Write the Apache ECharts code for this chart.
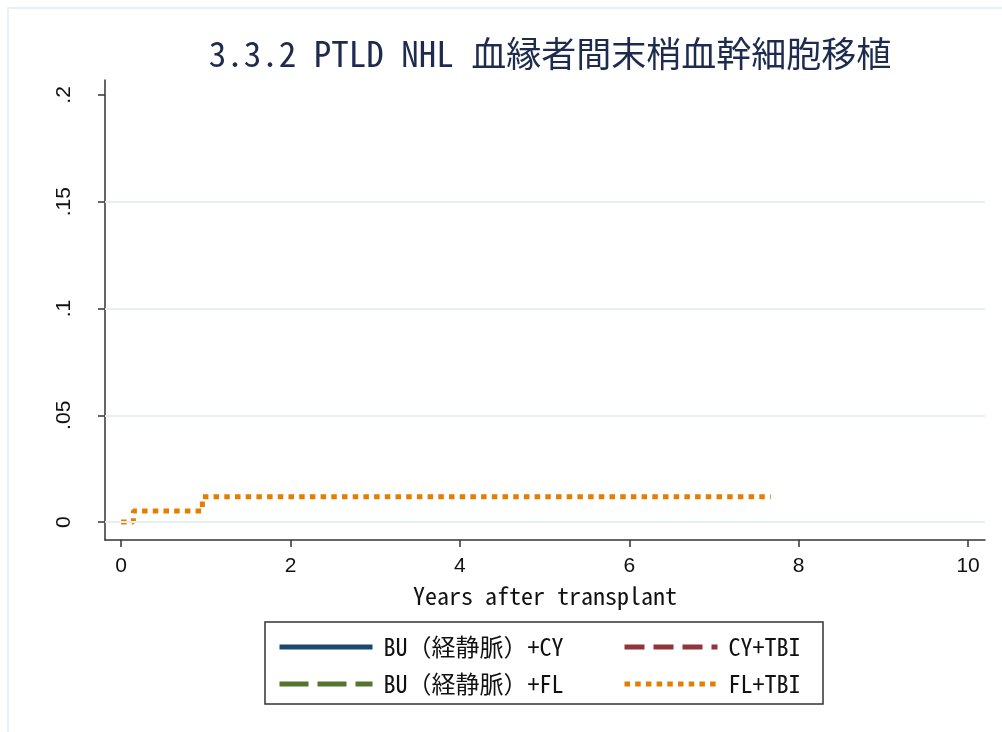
<!DOCTYPE html>
<html>
<head>
<meta charset="utf-8">
<script src="https://cdn.jsdelivr.net/npm/echarts@6/dist/echarts.min.js"></script>
<style>
  html, body { margin: 0; padding: 0; background: #fff; }
  #chart { width: 1002px; height: 732px; }
</style>
</head>
<body>
<div id="chart"></div>
<script>
// series names (legend order)
const seriesNames = ['BU（経静脈）+CY', 'BU（経静脈）+FL', 'CY+TBI', 'FL+TBI']
// cumulative incidence: [years, value]
const buCyData = []
const buFlData = []
const cyTbiData = []
const flTbiData = [[0, 0], [0.145, 0.0052], [0.96, 0.0118], [7.67, 0.0118]]

const xTicks = [0, 2, 4, 6, 8, 10]
const yTicks = [0, 0.05, 0.1, 0.15, 0.2]
const yTickLabels = ['0', '.05', '.1', '.15', '.2']
const gridValues = [0, 0.05, 0.1, 0.15]

const monoJP = '"Noto Sans Mono CJK JP", "Noto Sans CJK JP", monospace'

const chart = echarts.init(document.getElementById('chart'))

const legendBase = {
  orient: 'vertical',
  top: 629,
  itemWidth: 93,
  itemHeight: 14,
  itemGap: 11,
  itemStyle: { opacity: 0 },
  lineStyle: { width: 5 },
  textStyle: {
    fontFamily: monoJP,
    fontSize: 24,
    lineHeight: 26,
    color: '#111',
    padding: [0, 0, 0, 6]
  }
}

const option = {
  backgroundColor: '#fff',
  animation: false,
  title: {
    text: '3.3.2 PTLD NHL 血縁者間末梢血幹細胞移植',
    left: 545,
    textAlign: 'center',
    top: 31,
    textStyle: {
      fontFamily: monoJP,
      fontSize: 35,
      fontWeight: 'normal',
      color: '#1c2b4e'
    }
  },
  graphic: [
    {
      type: 'rect',
      shape: { x: 8, y: 8, width: 1010, height: 740 },
      style: { fill: 'none', stroke: '#e4ecef', lineWidth: 1.5 },
      silent: true
    },
    {
      type: 'rect',
      shape: { x: 265, y: 622, width: 558, height: 82 },
      style: { fill: 'none', stroke: '#333', lineWidth: 1.5 },
      silent: true
    }
  ],
  grid: { left: 105, right: 17, top: 80, bottom: 192 },
  xAxis: {
    type: 'value',
    min: -0.19,
    max: 10.2,
    name: 'Years after transplant',
    nameLocation: 'middle',
    nameGap: 44,
    nameTextStyle: { fontFamily: monoJP, fontSize: 24, color: '#111' },
    axisLine: { show: true, onZero: false, lineStyle: { color: '#333', width: 1.5 } },
    axisTick: {
      show: true,
      customValues: xTicks,
      length: 7,
      lineStyle: { color: '#333', width: 1.5 }
    },
    axisLabel: {
      customValues: xTicks,
      margin: 16,
      fontFamily: 'Liberation Sans, Arial, sans-serif',
      fontSize: 21,
      color: '#111'
    },
    splitLine: { show: false }
  },
  yAxis: {
    type: 'value',
    min: -0.0084,
    max: 0.207,
    axisLine: { show: true, onZero: false, lineStyle: { color: '#333', width: 1.5 } },
    axisTick: {
      show: true,
      customValues: yTicks,
      length: 7,
      lineStyle: { color: '#333', width: 1.5 }
    },
    axisLabel: {
      customValues: yTicks,
      rotate: 90,
      margin: 30,
      fontFamily: 'Liberation Sans, Arial, sans-serif',
      fontSize: 21,
      color: '#111',
      formatter: v => {
        const i = yTicks.findIndex(t => Math.abs(t - v) < 1e-9)
        return i >= 0 ? yTickLabels[i] : ''
      }
    },
    splitLine: { show: false }
  },
  legend: [
    Object.assign({}, legendBase, { data: [seriesNames[0], seriesNames[1]], left: 272 }),
    Object.assign({}, legendBase, { data: [seriesNames[2], seriesNames[3]], left: 617 })
  ],
  series: [
    {
      // gridlines
      type: 'line',
      name: 'grid',
      data: [],
      silent: true,
      markLine: {
        silent: true,
        symbol: 'none',
        label: { show: false },
        lineStyle: { color: '#e6eff2', width: 2, type: 'solid' },
        data: gridValues.map(v => ({ yAxis: v }))
      }
    },
    {
      name: seriesNames[0],
      type: 'line',
      data: buCyData,
      step: 'end',
      symbol: 'none',
      color: '#1a476f',
      lineStyle: { color: '#1a476f', width: 5, type: 'solid' }
    },
    {
      name: seriesNames[1],
      type: 'line',
      data: buFlData,
      step: 'end',
      symbol: 'none',
      color: '#55752f',
      lineStyle: { color: '#55752f', width: 5, type: [29, 9] }
    },
    {
      name: seriesNames[2],
      type: 'line',
      data: cyTbiData,
      step: 'end',
      symbol: 'none',
      color: '#90353b',
      lineStyle: { color: '#90353b', width: 5, type: [20, 9] }
    },
    {
      name: seriesNames[3],
      type: 'line',
      data: flTbiData,
      step: 'end',
      symbol: 'none',
      color: '#e37e00',
      lineStyle: { color: '#e37e00', width: 5, type: [5.5, 5.2], cap: 'butt' }
    }
  ]
}

chart.setOption(option)
</script>
</body>
</html>
